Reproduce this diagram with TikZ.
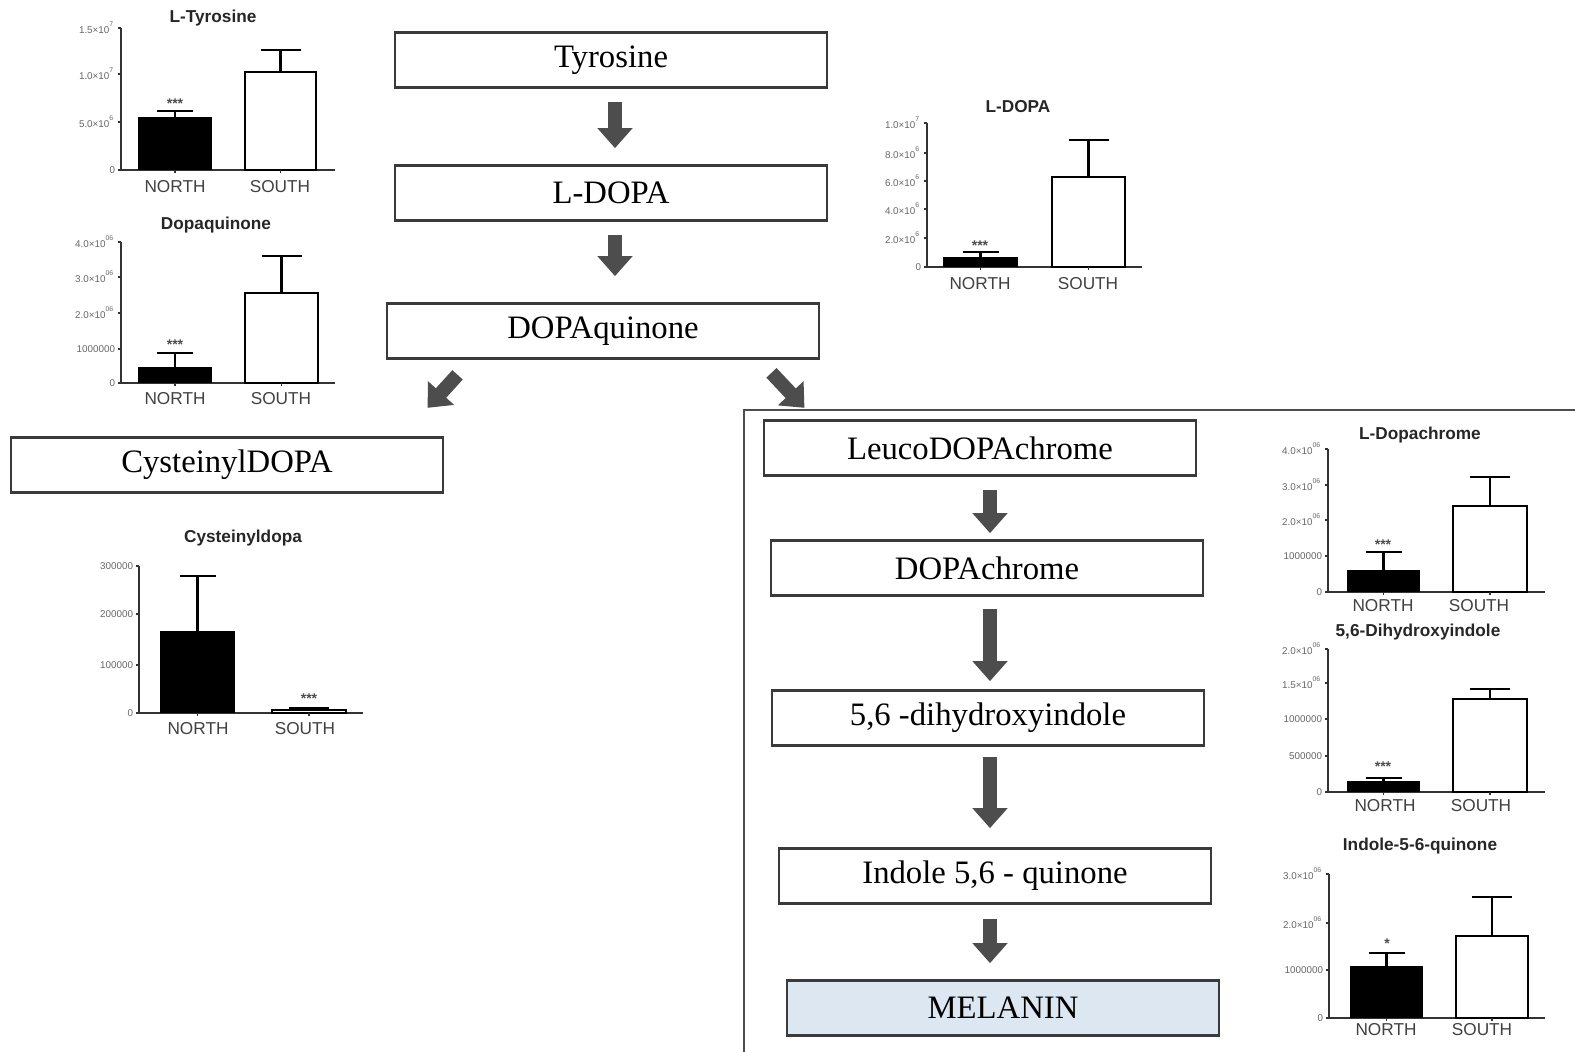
\documentclass[tikz,border=0pt]{standalone}
\usepackage{fontspec}
\setmainfont{Liberation Serif}
\newfontfamily\chartfont{Liberation Sans}
\usetikzlibrary{arrows.meta}

\definecolor{boxline}{HTML}{3A3A3A}
\definecolor{arrowgray}{HTML}{4D4D4D}
\definecolor{melaninblue}{HTML}{DDE7F2}
\definecolor{chartink}{HTML}{333333}

\tikzset{
  stepbox/.style={draw=boxline, line width=0.75pt, fill=white, minimum width=4.32cm,
    minimum height=0.55cm, inner sep=0pt, font=\fontsize{9.3}{11}\selectfont},
  blockarrow/.style={draw=arrowgray, line width=0.14cm,
    -{Triangle[width=0.34cm,length=0.2cm]}},
  axisline/.style={draw=chartink, line width=0.5pt},
  barline/.style={draw=black, line width=0.7pt},
  errline/.style={draw=black, line width=0.6pt},
  charttitle/.style={font=\chartfont\bfseries\fontsize{4.9}{5}\selectfont, text=black!85, inner sep=0pt},
  grouplabel/.style={font=\chartfont\fontsize{4.9}{5}\selectfont, text=black!75, inner sep=0pt},
  ticklabel/.style={font=\chartfont\fontsize{2.8}{3}\selectfont, text=black!60, anchor=east, inner sep=0.6pt},
  stars/.style={font=\chartfont\bfseries\fontsize{4}{4}\selectfont, text=black!70, inner sep=0pt}
}

% axes of one small chart: x0, ybottom, ytop, xright
\newcommand{\chartaxes}[4]{\draw[axisline] (#1,#3) -- (#1,#2) -- (#4,#2);}
% bars: x1, x2, ybottom, top, error top
\newcommand{\northbar}[5]{%
  \fill[black] (#1,#3) rectangle (#2,#4);
  \draw[errline] ({(#1+#2)/2},#4) -- ({(#1+#2)/2},#5) ++(-18,0) -- ++(36,0);
  \draw[axisline] ({(#1+#2)/2},#3) -- ++(0,3);}
\newcommand{\southbar}[5]{%
  \draw[barline, fill=white] (#1,#3) rectangle (#2,#4);
  \draw[errline] ({(#1+#2)/2},#4) -- ({(#1+#2)/2},#5) ++(-20,0) -- ++(40,0);
  \draw[axisline] ({(#1+#2)/2},#3) -- ++(0,3);}

\begin{document}
\begin{tikzpicture}[x=0.01cm, y=-0.01cm]
  \useasboundingbox (0,0) rectangle (1575,1052);

  % pathway
  \node[stepbox] (tyr) at (611,60) {Tyrosine};
  \node[stepbox] (ldopa) at (611,193) {L-DOPA};
  \node[stepbox] (dq) at (603,331) {DOPAquinone};
  \node[stepbox] (cys) at (227,465) {CysteinylDOPA};

  \draw[draw=arrowgray, line width=0.8pt] (744,1052) -- (744,410) -- (1575,410);
  \node[stepbox] (leuco) at (980,448) {LeucoDOPAchrome};
  \node[stepbox] (dchrome) at (987,568) {DOPAchrome};
  \node[stepbox] (dhi) at (988,718) {5,6 -dihydroxyindole};
  \node[stepbox] (iq) at (995,876) {Indole 5,6 - quinone};
  \node[stepbox, fill=melaninblue] (mel) at (1003,1008) {MELANIN};

  \draw[blockarrow, shorten <=0.13cm, shorten >=0.16cm] ([xshift=0.04cm]tyr.south) -- ([xshift=0.04cm]ldopa.north);
  \draw[blockarrow, shorten <=0.13cm, shorten >=0.26cm] ([xshift=0.04cm]ldopa.south) -- ([xshift=0.04cm]ldopa.south |- dq.north);
  \draw[blockarrow] ([shift={(72,15)}]dq.south west) -- ++(-30,33);
  \draw[blockarrow] ([shift={(-49,13)}]dq.south east) -- ++(33,35);
  \draw[blockarrow, shorten <=0.13cm, shorten >=0.06cm] ([xshift=0.1cm]leuco.south) -- ([xshift=0.1cm]leuco.south |- dchrome.north);
  \draw[blockarrow, shorten <=0.12cm, shorten >=0.08cm] ([xshift=0.03cm]dchrome.south) -- ([xshift=0.03cm]dchrome.south |- dhi.north);
  \draw[blockarrow, shorten <=0.10cm, shorten >=0.19cm] ([xshift=0.02cm]dhi.south) -- ([xshift=0.02cm]dhi.south |- iq.north);
  \draw[blockarrow, shorten <=0.14cm, shorten >=0.16cm] ([xshift=-0.05cm]iq.south) -- ([xshift=-0.05cm]iq.south |- mel.north);

  % L-Tyrosine
  \node[charttitle] (tyrtitle) at (213,18) {L-Tyrosine};
  \chartaxes{121}{170}{28}{335}
  \foreach \y/\t in {170/0, 122/5.0×10\textsuperscript{6}, 74/1.0×10\textsuperscript{7}, 28/1.5×10\textsuperscript{7}}
    \draw[axisline] (121,\y) -- (118,\y) node[ticklabel] (tyrtick\y) {\t};
  \northbar{138}{212}{170}{117}{111}
  \southbar{245}{316}{170}{72}{50}
  \node[stars] (tyrstars) at (175,104) {***};
  \node[grouplabel] (tyrnorth) at (175,187) {NORTH};
  \node[grouplabel] (tyrsouth) at (280,187) {SOUTH};

  % Dopaquinone
  \node[charttitle] (dqtitle) at (216,225) {Dopaquinone};
  \chartaxes{121}{383}{242}{335}
  \foreach \y/\t in {383/0, 349/1000000, 313/2.0×10\textsuperscript{06}, 277/3.0×10\textsuperscript{06}, 242/4.0×10\textsuperscript{06}}
    \draw[axisline] (121,\y) -- (118,\y) node[ticklabel] (dqtick\y) {\t};
  \northbar{138}{212}{383}{367}{353}
  \southbar{245}{318}{383}{293}{256}
  \node[stars] (dqstars) at (175,345) {***};
  \node[grouplabel] (dqnorth) at (175,399) {NORTH};
  \node[grouplabel] (dqsouth) at (281,399) {SOUTH};

  % L-DOPA
  \node[charttitle] (ldtitle) at (1018,107) {L-DOPA};
  \chartaxes{927}{267}{123}{1142}
  \foreach \y/\t in {267/0, 238/2.0×10\textsuperscript{6}, 209/4.0×10\textsuperscript{6}, 181/6.0×10\textsuperscript{6}, 153/8.0×10\textsuperscript{6}, 123/1.0×10\textsuperscript{7}}
    \draw[axisline] (927,\y) -- (924,\y) node[ticklabel] (ldtick\y) {\t};
  \northbar{943}{1018}{267}{257}{252}
  \southbar{1052}{1125}{267}{177}{140}
  \node[stars] (ldstars) at (980,246) {***};
  \node[grouplabel] (ldnorth) at (980,284) {NORTH};
  \node[grouplabel] (ldsouth) at (1088,284) {SOUTH};

  % Cysteinyldopa
  \node[charttitle] (cystitle) at (243,538) {Cysteinyldopa};
  \chartaxes{139}{713}{566}{363}
  \foreach \y/\t in {713/0, 665/100000, 614/200000, 566/300000}
    \draw[axisline] (139,\y) -- (136,\y) node[ticklabel] (cystick\y) {\t};
  \northbar{160}{235}{713}{631}{576}
  \southbar{272}{346}{713}{710}{708}
  \node[stars] (cysstars) at (309,699) {***};
  \node[grouplabel] (cysnorth) at (198,729) {NORTH};
  \node[grouplabel] (cyssouth) at (305,729) {SOUTH};

  % L-Dopachrome
  \node[charttitle] (dctitle) at (1420,435) {L-Dopachrome};
  \chartaxes{1328}{592}{449}{1545}
  \foreach \y/\t in {592/0, 556/1000000, 520/2.0×10\textsuperscript{06}, 485/3.0×10\textsuperscript{06}, 449/4.0×10\textsuperscript{06}}
    \draw[axisline] (1328,\y) -- (1325,\y) node[ticklabel] (dctick\y) {\t};
  \northbar{1347}{1420}{592}{570}{552}
  \southbar{1453}{1527}{592}{506}{477}
  \node[stars] (dcstars) at (1383,545) {***};
  \node[grouplabel] (dcnorth) at (1383,606) {NORTH};
  \node[grouplabel] (dcsouth) at (1479,606) {SOUTH};

  % 5,6-Dihydroxyindole
  \node[charttitle] (dhititle) at (1418,632) {5,6-Dihydroxyindole};
  \chartaxes{1328}{792}{649}{1545}
  \foreach \y/\t in {792/0, 756/500000, 719/1000000, 683/1.5×10\textsuperscript{06}, 649/2.0×10\textsuperscript{06}}
    \draw[axisline] (1328,\y) -- (1325,\y) node[ticklabel] (dhitick\y) {\t};
  \northbar{1347}{1420}{792}{781}{778}
  \southbar{1453}{1527}{792}{699}{689}
  \node[stars] (dhistars) at (1383,767) {***};
  \node[grouplabel] (dhinorth) at (1385,806) {NORTH};
  \node[grouplabel] (dhisouth) at (1481,806) {SOUTH};

  % Indole-5-6-quinone
  \node[charttitle] (iqtitle) at (1420,846) {Indole-5-6-quinone};
  \chartaxes{1329}{1018}{874}{1545}
  \foreach \y/\t in {1018/0, 970/1000000, 923/2.0×10\textsuperscript{06}, 874/3.0×10\textsuperscript{06}}
    \draw[axisline] (1329,\y) -- (1326,\y) node[ticklabel] (iqtick\y) {\t};
  \northbar{1350}{1423}{1018}{966}{953}
  \southbar{1456}{1528}{1018}{936}{897}
  \node[stars] (iqstars) at (1387,944) {*};
  \node[grouplabel] (iqnorth) at (1386,1030) {NORTH};
  \node[grouplabel] (iqsouth) at (1482,1030) {SOUTH};
\end{tikzpicture}
\end{document}
